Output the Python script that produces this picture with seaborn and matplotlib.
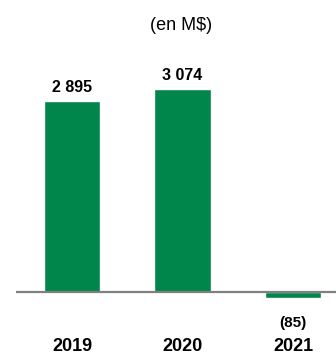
import matplotlib
matplotlib.use("Agg")
import matplotlib.pyplot as plt
import seaborn as sns
import pandas as pd

years = ["2019", "2020", "2021"]
values = [2895, 3074, -85]
value_labels = ["2 895", "3 074", "(85)"]
unit_label = "(en M$)"

bar_color = "#00854a"

sns.set_style("white")
plt.rcParams["font.family"] = ["Liberation Sans", "DejaVu Sans"]
plt.rcParams["text.color"] = "black"

df = pd.DataFrame({"year": years, "value": values})

fig = plt.figure(figsize=(3.36, 3.54), dpi=100)
ax = fig.add_axes([16 / 336, 0, 320 / 336, 1])

sns.barplot(data=df, x="year", y="value", color=bar_color, width=0.51,
            saturation=1, ax=ax)

ax.set_xlim(-0.507, 2.389)
ax.set_ylim(-940, 4426)
ax.axhline(0, color="#808080", lw=1.6, zorder=3)

for i, (v, lab) in enumerate(zip(values, value_labels)):
    if v >= 0:
        ax.annotate(lab, (i, v), xytext=(0, 4.5), textcoords="offset points",
                    ha="center", va="bottom", fontsize=11.5, fontweight="bold")
    else:
        ax.annotate(lab, (i, 0), xytext=(0, -22.3), textcoords="offset points",
                    ha="center", va="center", fontsize=11, fontweight="bold")
    ax.annotate(years[i], (i, 0), xytext=(0, -39.5), textcoords="offset points",
                ha="center", va="center", fontsize=13, fontweight="bold")

fig.text(181 / 336, 1 - 26 / 354, unit_label, ha="center", va="center", fontsize=13)

ax.set_xlabel("")
ax.set_ylabel("")
ax.set_xticks([])
ax.set_yticks([])
sns.despine(ax=ax, left=True, bottom=True)

fig.savefig("out.png", dpi=100)
